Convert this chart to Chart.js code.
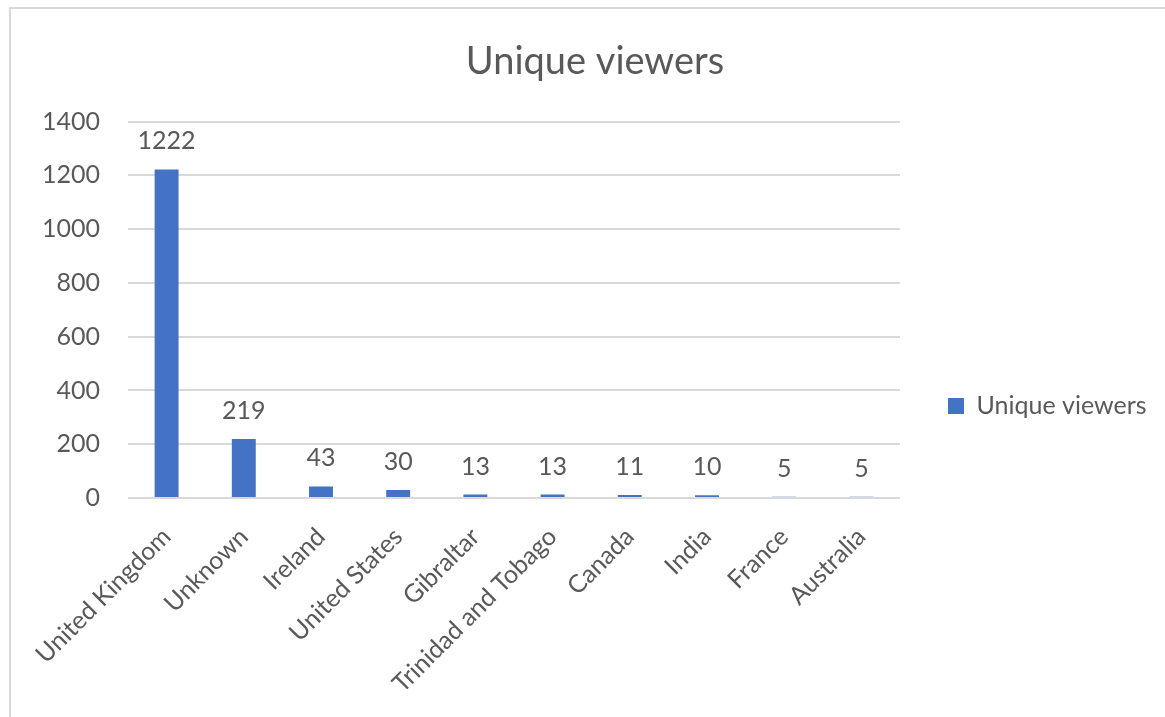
<!DOCTYPE html>
<html>
<head>
<meta charset="utf-8">
<title>Unique viewers</title>
<script src="https://cdn.jsdelivr.net/npm/chart.js@4.4.1/dist/chart.umd.min.js"></script>
<style>
  html, body { margin: 0; padding: 0; background: #fff; overflow: hidden; }
  #wrap { position: relative; width: 1165px; height: 717px; overflow: hidden; }
  #viewersChart { position: absolute; left: 0; top: 0; }
  .frame { position: absolute; left: 9px; top: 7px; width: 1200px; height: 800px; border: 2px solid #d9d9d9; pointer-events: none; }
</style>
</head>
<body>
<div id="wrap">
  <canvas id="viewersChart" width="1190" height="812"></canvas>
  <div class="frame"></div>
</div>
<script>
/* unique viewers by country */
const countries = ['United Kingdom', 'Unknown', 'Ireland', 'United States', 'Gibraltar',
                   'Trinidad and Tobago', 'Canada', 'India', 'France', 'Australia'];
const viewers = [1222, 219, 43, 30, 13, 13, 11, 10, 5, 5];
const seriesLabel = 'Unique viewers';
const yTicks = [0, 200, 400, 600, 800, 1000, 1200, 1400];

const TEXT = '#595959';
const GRID = '#d9d9d9';
const BAR = '#4472C4';
const FONT = 'Lato';
const TICK_SIZE = 25;
const TITLE_SIZE = 38;

const canvas = document.getElementById('viewersChart');

// legend width is worked out up front so the plot ends at the same spot
const LEG_PAD = 48, LEG_BOX = 16;
const mctx = canvas.getContext('2d');
mctx.font = `${TICK_SIZE}px ${FONT}`;
const legendW = LEG_PAD + LEG_BOX + TICK_SIZE / 2 + mctx.measureText(seriesLabel).width + 10;
const PLOT_LEFT = 128, PLOT_RIGHT = 900, PLOT_BOTTOM = 498;
const padLeft = Math.max(0, 290 - legendW);
const padRight = canvas.width - PLOT_RIGHT - legendW;

// value labels above each bar
const barValueLabels = {
  id: 'barValueLabels',
  afterDatasetsDraw(chart) {
    const { ctx } = chart;
    const meta = chart.getDatasetMeta(0);
    ctx.save();
    ctx.font = `${TICK_SIZE}px ${FONT}`;
    ctx.fillStyle = TEXT;
    ctx.textAlign = 'center';
    ctx.textBaseline = 'alphabetic';
    meta.data.forEach((bar, i) => ctx.fillText(String(viewers[i]), bar.x, bar.y - 20));
    ctx.restore();
  }
};

new Chart(canvas, {
  type: 'bar',
  data: {
    labels: countries,
    datasets: [{
      label: seriesLabel,
      data: viewers,
      backgroundColor: BAR,
      borderWidth: 0,
      barPercentage: 0.31,
      categoryPercentage: 1
    }]
  },
  options: {
    responsive: false,
    animation: false,
    layout: { padding: { left: padLeft, right: padRight, top: 0, bottom: 0 } },
    plugins: {
      title: {
        display: true,
        text: seriesLabel,
        color: TEXT,
        font: { family: FONT, size: TITLE_SIZE, weight: 'normal' },
        padding: { top: 39, bottom: 37 }
      },
      legend: {
        position: 'right',
        labels: {
          color: TEXT,
          font: { family: FONT, size: TICK_SIZE },
          boxWidth: LEG_BOX,
          boxHeight: LEG_BOX,
          padding: LEG_PAD
        }
      },
      tooltip: { enabled: false }
    },
    scales: {
      x: {
        grid: { display: false },
        border: { display: false },
        ticks: {
          color: TEXT,
          font: { family: FONT, size: TICK_SIZE },
          minRotation: 45,
          maxRotation: 45,
          autoSkip: false,
          padding: 16
        },
        afterFit(scale) { scale.height = canvas.height - PLOT_BOTTOM; }
      },
      y: {
        min: yTicks[0],
        max: yTicks[yTicks.length - 1],
        afterBuildTicks(scale) { scale.ticks = yTicks.map(v => ({ value: v })); },
        grid: { color: GRID, lineWidth: 2, drawTicks: false },
        border: { display: false },
        ticks: {
          color: TEXT,
          font: { family: FONT, size: TICK_SIZE },
          padding: 28,
          callback: v => String(v)
        },
        afterFit(scale) { scale.width = PLOT_LEFT - padLeft; }
      }
    }
  },
  plugins: [barValueLabels]
});
</script>
</body>
</html>
